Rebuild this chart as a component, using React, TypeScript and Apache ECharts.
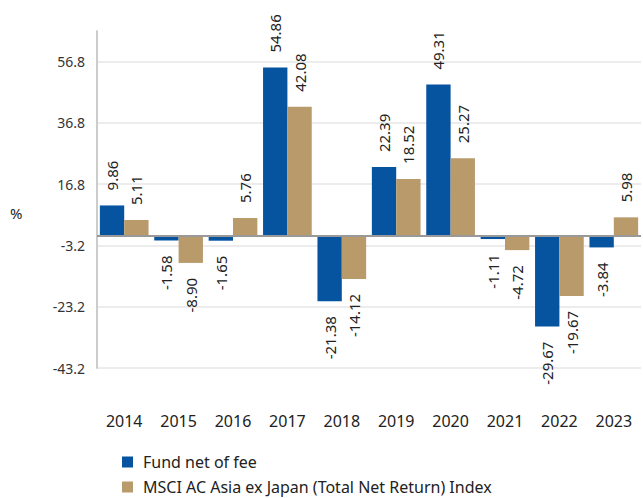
import React, { useEffect, useRef } from "react";
import * as echarts from "echarts";

const years = ["2014", "2015", "2016", "2017", "2018", "2019", "2020", "2021", "2022", "2023"];
const fundValues = [9.86, -1.58, -1.65, 54.86, -21.38, 22.39, 49.31, -1.11, -29.67, -3.84];
const indexValues = [5.11, -8.9, 5.76, 42.08, -14.12, 18.52, 25.27, -4.72, -19.67, 5.98];
const seriesNames = ["Fund net of fee", "MSCI AC Asia ex Japan (Total Net Return) Index"];
const FONT = "'Noto Sans', 'Open Sans', sans-serif";

function labelled(values: number[]) {
  return values.map((v) => ({
    value: v,
    label: v >= 0
      ? { position: "top", align: "left", verticalAlign: "middle" }
      : { position: "bottom", align: "right", verticalAlign: "middle" },
  }));
}

export default function App() {
  const ref = useRef<HTMLDivElement>(null);
  useEffect(() => {
    document.body.style.margin = "0";
    const chart = echarts.init(ref.current!, undefined, { renderer: "svg" });
    const baseLabel = {
      show: true,
      rotate: 90,
      distance: 15,
      fontSize: 15,
      fontFamily: FONT,
      color: "#222",
      formatter: (p: any) => Number(p.value).toFixed(2),
    };
    const legendBase = {
      orient: "horizontal",
      left: 122,
      padding: 0,
      itemWidth: 11,
      itemHeight: 11,
      icon: "rect",
      textStyle: { fontSize: 16, color: "#222", fontFamily: FONT, padding: [0, 0, 0, 5] },
    };
    chart.setOption({
      animation: false,
      textStyle: { fontFamily: FONT },
      grid: { left: 97, right: 2, top: 31, bottom: 130, containLabel: false },
      legend: [
        { ...legendBase, top: 454, data: [seriesNames[0]] },
        { ...legendBase, top: 479, data: [seriesNames[1]] },
      ],
      graphic: [
        {
          type: "text",
          left: 10,
          top: 205,
          style: { text: "%", fontSize: 15, fill: "#222", fontFamily: FONT },
        },
      ],
      xAxis: {
        type: "category",
        data: years,
        position: "bottom",
        axisLine: { show: false, onZero: false },
        axisTick: { show: false },
        axisLabel: { margin: 45, fontSize: 16, color: "#222", fontFamily: FONT },
      },
      yAxis: {
        type: "value",
        min: -43.2,
        max: 66.8,
        interval: 20,
        axisLine: { show: true, lineStyle: { color: "#cccccc", width: 2 } },
        axisTick: { show: false },
        splitLine: { show: true, showMaxLine: false, lineStyle: { color: "#e6e6e6", width: 1.5 } },
        axisLabel: {
          margin: 12,
          fontSize: 14,
          color: "#333",
          fontFamily: FONT,
          showMaxLabel: false,
          formatter: (v: number) => (v > 60 ? "" : v.toFixed(1)),
        },
      },
      series: [
        {
          name: seriesNames[0],
          type: "bar",
          data: labelled(fundValues),
          itemStyle: { color: "#0653A0" },
          barGap: "0%",
          barCategoryGap: "10.5%",
          label: baseLabel,
          markLine: {
            silent: true,
            symbol: "none",
            label: { show: false },
            lineStyle: { color: "#999999", type: "solid", width: 2 },
            data: [{ yAxis: 0 }],
          },
        },
        {
          name: seriesNames[1],
          type: "bar",
          data: labelled(indexValues),
          itemStyle: { color: "#B99A6B" },
          barGap: "0%",
          barCategoryGap: "10.5%",
          label: baseLabel,
        },
      ],
    });
    return () => chart.dispose();
  }, []);
  return <div ref={ref} style={{ width: 643, height: 498 }} />;
}
